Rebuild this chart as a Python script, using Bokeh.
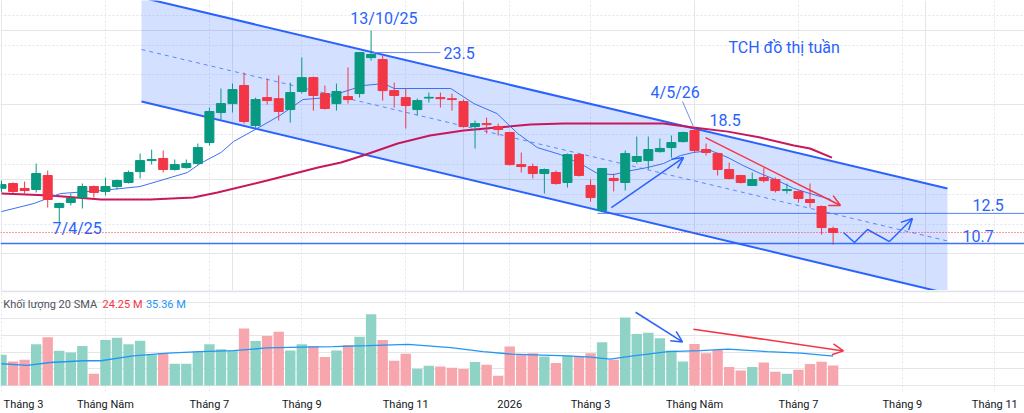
from bokeh.plotting import figure
from bokeh.models import (ColumnDataSource, Range1d, FixedTicker, Grid, Span,
                          Arrow, OpenHead)
from bokeh.layouts import column
from bokeh.embed import file_html
from bokeh.resources import INLINE
from bokeh.core.properties import value

# ---------------- data (weekly bars, TCH) ----------------
dates = ["03/03/25", "10/03/25", "17/03/25", "24/03/25", "31/03/25", "07/04/25", "14/04/25",
         "21/04/25", "28/04/25", "05/05/25", "12/05/25", "19/05/25", "26/05/25", "02/06/25",
         "09/06/25", "16/06/25", "23/06/25", "30/06/25", "07/07/25", "14/07/25", "21/07/25",
         "28/07/25", "04/08/25", "11/08/25", "18/08/25", "25/08/25", "01/09/25", "08/09/25",
         "15/09/25", "22/09/25", "29/09/25", "06/10/25", "13/10/25", "20/10/25", "27/10/25",
         "03/11/25", "10/11/25", "17/11/25", "24/11/25", "01/12/25", "08/12/25", "15/12/25",
         "22/12/25", "29/12/25", "05/01/26", "12/01/26", "19/01/26", "26/01/26", "02/02/26",
         "09/02/26", "23/02/26", "02/03/26", "09/03/26", "16/03/26", "23/03/26", "30/03/26",
         "06/04/26", "13/04/26", "20/04/26", "27/04/26", "04/05/26", "11/05/26", "18/05/26",
         "25/05/26", "01/06/26", "08/06/26", "15/06/26", "22/06/26", "29/06/26", "06/07/26",
         "13/07/26", "20/07/26", "27/07/26"]

open_ = [14.40, 14.72, 14.39, 14.32, 15.26, 13.11, 13.45, 13.78, 14.52, 14.19,
         14.52, 14.79, 15.52, 16.26, 16.40, 15.66, 15.79, 16.06, 17.47, 19.48,
         20.08, 21.29, 18.61, 20.48, 20.41, 19.68, 20.89, 21.82, 20.75, 20.08,
         20.55, 20.75, 23.16, 23.03, 20.95, 20.48, 19.68, 20.45, 20.48, 20.41,
         20.22, 18.54, 18.74, 18.54, 18.14, 15.99, 15.86, 15.39, 15.46, 14.79,
         16.66, 14.59, 12.91, 15.06, 14.79, 16.20, 16.26, 16.86, 17.13, 17.53,
         18.27, 17.00, 16.73, 15.66, 15.26, 14.59, 15.12, 14.99, 14.25, 14.19,
         13.65, 13.18, 11.70]
high = [14.92, 14.80, 14.85, 16.06, 15.59, 13.45, 14.05, 14.72, 14.59, 15.12,
        14.99, 15.59, 16.73, 16.99, 16.93, 16.33, 16.33, 17.40, 19.81, 21.09,
        21.42, 22.16, 20.48, 21.76, 21.96, 21.49, 23.17, 21.89, 21.29, 21.42,
        22.50, 23.50, 24.97, 23.30, 21.49, 21.09, 20.42, 20.82, 20.82, 20.75,
        20.35, 18.94, 19.14, 18.74, 18.20, 16.80, 16.06, 15.73, 15.59, 16.73,
        16.73, 14.99, 15.73, 15.39, 16.93, 17.87, 17.87, 17.74, 17.94, 18.20,
        18.40, 17.40, 16.80, 16.13, 15.30, 15.46, 15.79, 15.12, 14.72, 14.25,
        14.72, 13.25, 11.84]
low = [14.12, 14.05, 14.05, 14.12, 13.11, 12.11, 13.25, 13.05, 13.78, 13.92,
       14.32, 14.72, 15.06, 15.99, 15.46, 15.59, 15.72, 15.99, 17.27, 19.01,
       19.48, 18.74, 18.47, 20.01, 18.94, 18.81, 20.75, 19.61, 19.68, 19.61,
       20.08, 20.48, 22.96, 20.28, 19.81, 18.41, 19.28, 20.15, 19.81, 19.61,
       18.47, 17.07, 18.07, 17.94, 15.93, 15.46, 15.06, 14.05, 14.65, 14.45,
       15.19, 13.51, 12.84, 14.19, 14.25, 16.06, 15.66, 16.80, 16.46, 17.47,
       16.80, 16.60, 15.26, 15.00, 14.72, 14.55, 14.79, 14.12, 14.05, 13.45,
       13.11, 11.30, 10.63]
close = [14.65, 14.19, 14.25, 15.39, 13.65, 13.38, 13.72, 14.52, 14.12, 14.52,
         14.92, 15.46, 16.26, 16.33, 15.66, 15.99, 16.06, 17.13, 19.55, 20.08,
         21.02, 18.88, 20.35, 20.28, 19.55, 20.82, 21.82, 20.62, 19.75, 20.89,
         20.35, 23.50, 23.37, 20.95, 20.62, 19.95, 20.28, 20.50, 20.41, 20.35,
         18.54, 18.74, 18.67, 18.34, 15.99, 15.86, 15.39, 15.66, 14.72, 16.66,
         15.26, 13.78, 15.73, 14.92, 16.73, 16.53, 17.00, 17.07, 17.47, 18.14,
         16.93, 16.80, 15.66, 15.06, 14.79, 14.99, 14.92, 14.25, 14.32, 13.72,
         13.45, 11.77, 11.44]
volume_m = [36.9, 28.9, 30.9, 49.6, 58.0, 41.7, 39.6, 47.6, 14.3, 54.7,
            57.5, 49.6, 53.9, 36.9, 38.9, 26.2, 26.2, 40.8, 49.6, 43.7,
            42.0, 68.7, 53.6, 59.5, 64.6, 42.0, 49.6, 47.6, 34.2, 42.0,
            48.8, 58.7, 85.7, 54.7, 29.8, 38.1, 20.2, 23.8, 23.0, 21.4,
            19.9, 28.2, 25.0, 11.9, 46.8, 37.7, 38.9, 34.9, 27.0, 35.7,
            34.9, 38.9, 52.0, 30.9, 81.8, 61.9, 63.4, 56.8, 42.0, 28.9,
            50.0, 38.9, 42.8, 22.3, 18.2, 22.3, 27.7, 16.7, 14.3, 19.0,
            25.8, 28.6, 24.25]

# moving averages (bar position, value)
ma_fast_x = [0, 2.8, 5.1, 8.6, 12, 16.1, 17.2, 19, 20.1, 22.1, 24.1, 26.1, 28.1, 31.3, 33.1,
             34, 38.9, 40.9, 42.9, 44.7, 46.4, 48.4, 50.4, 51.6, 53, 54.5, 55.9, 57.3, 58.8,
             59.9, 61.4, 62.9, 64.2, 65.7, 67.2, 68.6, 70, 71.8]
ma_fast_y = [12.84, 13.38, 14.05, 14.25, 14.52, 15.46, 16.06, 16.80, 17.54, 18.40, 19.28, 20.35,
             20.48, 21.29, 21.42, 21.09, 21.09, 20.08, 19.41, 18.07, 17.13, 16.66, 15.93, 15.39,
             15.32, 15.59, 15.79, 16.06, 16.60, 16.80, 16.93, 16.46, 15.93, 15.39, 14.92, 14.39,
             14.05, 13.65]
ma_slow_x = [0, 4.2, 8.6, 12.9, 16.6, 18.7, 23, 27.4, 29.4, 31.3, 34.3, 37.1, 40, 42.9, 45.8,
             48.7, 51.6, 57.3, 59.9, 62.9, 65.7, 68.6, 70, 71.9]
ma_slow_y = [14.05, 13.92, 13.65, 13.65, 13.78, 14.12, 14.92, 15.79, 16.13, 16.60, 17.40, 17.94,
             18.27, 18.47, 18.67, 18.74, 18.74, 18.74, 18.47, 18.20, 17.80, 17.27, 17.07, 16.46]
vol_sma_x = [0, 2.25, 4.2, 7.1, 8.6, 11.4, 14.4, 17.2, 20.1, 23, 25.9, 28.7, 31.7, 35.2, 38.9,
             41.7, 44.2, 46.1, 49, 51, 52.7, 54.7, 57.7, 60.5, 62.9, 66.3, 69.2, 72]
vol_sma_y = [26.2, 24.2, 27.7, 29.8, 29.8, 35.7, 38.9, 40.8, 42.0, 45.2, 46.1, 46.8, 48.0, 49.6,
             45.6, 40.8, 37.7, 36.9, 35.7, 34.2, 31.8, 35.7, 40.8, 42.0, 43.7, 40.8, 38.9, 35.36]

# time axis ticks (bar positions) and labels
tick_pos = [0, 9, 18, 26, 35, 44, 51, 60, 69, 78, 86]
tick_text = ["Tháng 3", "Tháng Năm", "Tháng 7", "Tháng 9", "Tháng 11", "2026",
             "Tháng 3", "Tháng Năm", "Tháng 7", "Tháng 9", "Tháng 11"]
price_grid = [10, 12, 14, 16, 18, 20, 22, 24, 26]
vol_grid = [0, 40, 80]

# drawings: parallel channel, levels, notes, arrows
chan_x = [12.12, 81.9]
chan_upper = [27.19, 14.39]
chan_lower = [20.22, 7.35]
support_level = 10.70
resist_level = 12.72
resist_start = 51.6
note_text = ["13/10/25", "23.5", "TCH đồ thị tuần", "4/5/26", "18.5", "7/4/25", "12.5", "10.7"]
note_x = [30.2, 38.27, 62.94, 56.2, 61.3, 4.42, 84.07, 83.2]
note_y = [25.78, 23.5, 23.84, 20.82, 19.01, 11.71, 13.25, 11.17]
lead_23_x = [32.2, 38.0]
lead_23_y = [23.5, 23.5]
lead_45_x = [58.96, 59.9]
lead_45_y = [20.22, 18.54]
arrow_up = (52.8, 13.11, 59.05, 16.46)
arrow_down = (60.95, 17.8, 72.64, 13.25)
zig_x = [72.9, 73.85, 74.98, 76.88, 78.87]
zig_y = [11.44, 10.77, 11.64, 10.83, 12.38]
vol_arrow_blue = (54.9, 88.1, 58.96, 52.4)
vol_arrow_red = (59.9, 67.8, 72.9, 41.65)
vol_title = "Khối lượng 20 SMA"
vol_last = "24.25 M"
vol_sma_last = "35.36 M"

# ---------------- styling ----------------
GREEN = "#089981"
RED = "#f23645"
BLUE = "#2962ff"
VGREEN = "#8fd3c6"
VRED = "#f7a6ad"
GRID = "#e3e6ec"
FONT = "Roboto"

n = len(dates)
xs = list(range(n))
is_up = [c >= o for o, c in zip(open_, close)]
src = ColumnDataSource(dict(
    x=xs, date=dates, o=open_, h=high, l=low, c=close,
    top=[max(a, b) for a, b in zip(open_, close)],
    bottom=[min(a, b) for a, b in zip(open_, close)],
    color=[GREEN if u else RED for u in is_up],
    vol=volume_m,
    vcolor=[VGREEN if u else VRED for u in is_up],
))

xr = Range1d(-0.087, 88.57)

# ---------------- price pane ----------------
p1 = figure(width=1024, height=290, x_range=xr, y_range=Range1d(7.55, 26.99),
            x_axis_location=None, y_axis_location=None, toolbar_location=None,
            output_backend="svg", min_border=0, outline_line_color=None, title=None)
p1.add_layout(Grid(dimension=0, ticker=FixedTicker(ticks=tick_pos),
                   grid_line_color=GRID, grid_line_dash="2 2"))
p1.add_layout(Grid(dimension=1, ticker=FixedTicker(ticks=price_grid),
                   grid_line_color=GRID, grid_line_dash="2 2"))

# channel
p1.patch(x=[chan_x[0], chan_x[1], chan_x[1], chan_x[0]],
         y=[chan_upper[0], chan_upper[1], chan_lower[1], chan_lower[0]],
         fill_color=BLUE, fill_alpha=0.2, line_color=None)
p1.line(chan_x, chan_upper, line_color=BLUE, line_width=2)
p1.line(chan_x, chan_lower, line_color=BLUE, line_width=2)
p1.line(chan_x, [(a + b) / 2 for a, b in zip(chan_upper, chan_lower)],
        line_color=BLUE, line_width=1, line_dash="4 4", line_alpha=0.7)

# levels
p1.add_layout(Span(location=support_level, dimension="width", line_color=BLUE,
                   line_width=1.5, line_alpha=0.9))
p1.line([resist_start, 95], [resist_level, resist_level], line_color=BLUE,
        line_width=1, line_alpha=0.8)
p1.add_layout(Span(location=close[-1], dimension="width", line_color=RED,
                   line_width=1, line_dash="1 2"))

# moving averages
p1.line(ma_slow_x, ma_slow_y, line_color="#c8175a", line_width=2)
p1.line(ma_fast_x, ma_fast_y, line_color="#3d6ff2", line_width=1)

# candles
p1.segment(x0="x", y0="l", x1="x", y1="h", source=src, line_color="color", line_width=1)
p1.vbar(x="x", width=0.78, top="top", bottom="bottom", source=src,
        fill_color="color", line_color="color", line_width=1)

# notes
p1.line(lead_23_x, lead_23_y, line_color="#6f8fe8", line_width=1)
p1.line(lead_45_x, lead_45_y, line_color="#6f8fe8", line_width=1)
p1.text(x=note_x, y=note_y, text=note_text, text_color=BLUE, text_font=value(FONT),
        text_font_size="16px", text_align="left", text_baseline="middle")

# arrows
for (xa, ya, xb, yb), col in [(arrow_up, BLUE), (arrow_down, RED)]:
    p1.add_layout(Arrow(end=OpenHead(size=11, line_color=col, line_width=1.5),
                        x_start=xa, y_start=ya, x_end=xb, y_end=yb,
                        line_color=col, line_width=1.5))
p1.line(zig_x[:-1], zig_y[:-1], line_color=BLUE, line_width=1.5)
p1.add_layout(Arrow(end=OpenHead(size=11, line_color=BLUE, line_width=1.5),
                    x_start=zig_x[-2], y_start=zig_y[-2], x_end=zig_x[-1], y_end=zig_y[-1],
                    line_color=BLUE, line_width=1.5))

# ---------------- volume pane ----------------
p2 = figure(width=1024, height=123, x_range=xr, y_range=Range1d(-7.14, 114.24),
            y_axis_location=None, toolbar_location=None, output_backend="svg",
            min_border=0, min_border_bottom=21, outline_line_color=None, title=None)
# axis labels: first label nudged right so it stays inside the picture
axis_ticks = [max(t, 1.9) for t in tick_pos]
p2.xaxis.ticker = FixedTicker(ticks=axis_ticks)
p2.xaxis.major_label_overrides = {k: t for k, t in zip(axis_ticks, tick_text)}
p2.xaxis.axis_line_color = None
p2.xaxis.major_tick_line_color = None
p2.xaxis.minor_tick_line_color = None
p2.xaxis.major_tick_out = 0
p2.xaxis.major_tick_in = 0
p2.xaxis.major_label_standoff = 6
p2.xaxis.major_label_text_font = FONT
p2.xaxis.major_label_text_font_size = "11px"
p2.xaxis.major_label_text_color = "#131722"
p2.xgrid.visible = False
p2.add_layout(Grid(dimension=0, ticker=FixedTicker(ticks=tick_pos),
                   grid_line_color=GRID, grid_line_dash="2 2"))
p2.add_layout(Grid(dimension=1, ticker=FixedTicker(ticks=vol_grid),
                   grid_line_color=GRID, grid_line_dash="2 2"))
p2.add_layout(Span(location=113.4, dimension="width", line_color="#e0e3eb", line_width=2))

p2.vbar(x="x", width=0.9, top="vol", bottom=0, source=src, fill_color="vcolor", line_color=None)
p2.line(vol_sma_x, vol_sma_y, line_color="#2196f3", line_width=1.3)

for (xa, ya, xb, yb), col in [(vol_arrow_blue, BLUE), (vol_arrow_red, RED)]:
    p2.add_layout(Arrow(end=OpenHead(size=11, line_color=col, line_width=1.5),
                        x_start=xa, y_start=ya, x_end=xb, y_end=yb,
                        line_color=col, line_width=1.5))

p2.text(x=[0.15, 8.75, 12.5], y=[97.6, 97.6, 97.6], text=[vol_title, vol_last, vol_sma_last],
        text_color=["#50535e", RED, "#2196f3"], text_font=value(FONT), text_font_size="11px",
        text_align="left", text_baseline="middle")

layout = column(p1, p2, spacing=0)
open("out.html", "w").write(file_html(layout, INLINE))
